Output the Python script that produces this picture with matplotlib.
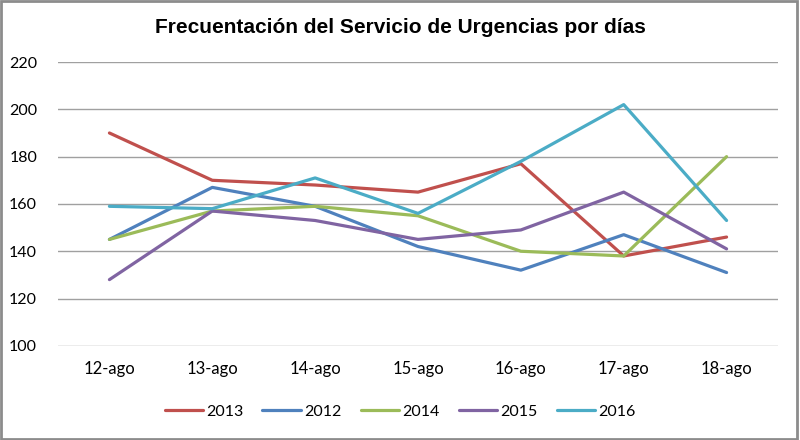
import matplotlib
matplotlib.use("Agg")
import matplotlib.pyplot as plt
from matplotlib.patches import Rectangle

categories = ["12-ago", "13-ago", "14-ago", "15-ago", "16-ago", "17-ago", "18-ago"]
s2013 = [190, 170, 168, 165, 177, 138, 146]
s2012 = [145, 167, 159, 142, 132, 147, 131]
s2014 = [145, 157, 159, 155, 140, 138, 180]
s2015 = [128, 157, 153, 145, 149, 165, 141]
s2016 = [159, 158, 171, 156, 178, 202, 153]
series_labels = ["2013", "2012", "2014", "2015", "2016"]
yticks = [100, 120, 140, 160, 180, 200, 220]

colors = ["#C0504D", "#4F81BD", "#9BBB59", "#8064A2", "#4BACC6"]

fig = plt.figure(figsize=(8, 4.4), dpi=100)
ax = fig.add_axes([0.0725, 0.214, 0.9, 0.645])

x = list(range(len(categories)))
for vals, lab, c in zip([s2013, s2012, s2014, s2015, s2016], series_labels, colors):
    ax.plot(x, vals, color=c, lw=2.3, label=lab, solid_capstyle="round", zorder=3)

ax.set_xlim(-0.5, len(categories) - 0.5)
ax.set_ylim(100, 220)
ax.set_yticks(yticks)
ax.set_xticks(x)
ax.set_xticklabels(categories)
ax.grid(axis="y", color="#A0A0A0", lw=1)
ax.set_axisbelow(True)
for sp in ax.spines.values():
    sp.set_visible(False)
ax.tick_params(axis="both", length=0, colors="black")
ax.tick_params(axis="x", labelsize=12, pad=11)
ax.tick_params(axis="y", labelsize=11.5, pad=15)
for lbl in ax.get_xticklabels() + ax.get_yticklabels():
    lbl.set_family("Lato")

fig.text(0.5, 0.937, "Frecuentación del Servicio de Urgencias por días",
         ha="center", va="center", fontsize=15, fontweight="bold",
         family="Liberation Sans")

leg = fig.legend(loc="center", bbox_to_anchor=(0.5, 0.064), ncol=5, frameon=False,
                 handlelength=2.4, handletextpad=0.2, columnspacing=1.2,
                 prop={"family": "Lato", "size": 11.5})

fig.patches.append(Rectangle((0.0015, 0.002), 0.995, 0.995, transform=fig.transFigure,
                             fill=False, edgecolor="#8C8C8C", lw=2))

fig.savefig("out.png", dpi=100)
